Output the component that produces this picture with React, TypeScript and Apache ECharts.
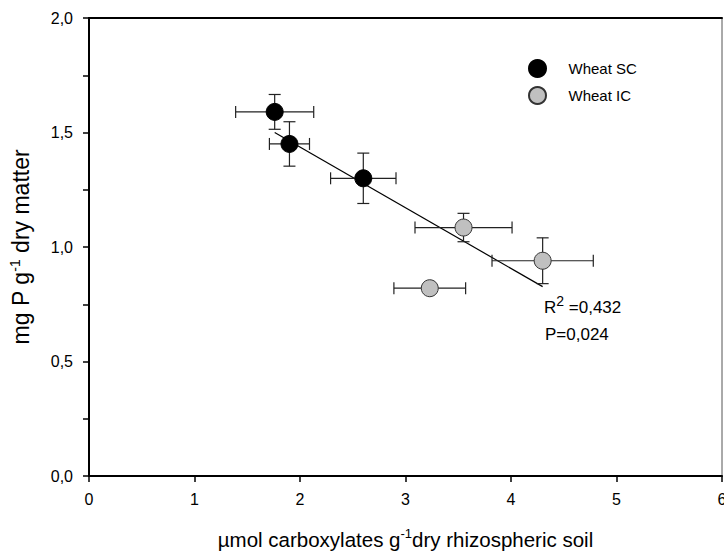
import React, { useEffect, useRef } from "react";
import * as echarts from "echarts";

const scX = [1.76, 1.9, 2.6];
const scY = [1.59, 1.45, 1.3];
const scXErr = [0.37, 0.19, 0.31];
const scYErr = [0.076, 0.097, 0.11];

const icX = [3.55, 4.3, 3.23];
const icY = [1.085, 0.94, 0.82];
const icXErr = [0.46, 0.48, 0.34];
const icYErr = [0.062, 0.1, 0.02];

const fitX = [1.76, 4.3];
const fitY = [1.5, 0.827];

const xTicks = [0, 1, 2, 3, 4, 5, 6];
const yTicks = ["0,0", "0,5", "1,0", "1,5", "2,0"];

const FONT = "Arial, 'Liberation Sans', sans-serif";

function errData(xs: number[], ys: number[], xe: number[], ye: number[]) {
  return xs.map((x, i) => [x, ys[i], xe[i], ye[i]]);
}

export default function App() {
  const ref = useRef<HTMLDivElement>(null);
  useEffect(() => {
    if (!ref.current) return;
    const chart = echarts.init(ref.current, undefined, { renderer: "svg" });
    const cap = 6;
    const renderErr = (params: any, api: any) => {
      const x = api.value(0);
      const y = api.value(1);
      const dx = api.value(2);
      const dy = api.value(3);
      const l = api.coord([x - dx, y]);
      const r = api.coord([x + dx, y]);
      const t = api.coord([x, y + dy]);
      const b = api.coord([x, y - dy]);
      const style = { stroke: "#222", lineWidth: 1.2 };
      return {
        type: "group",
        children: [
          { type: "line", shape: { x1: l[0], y1: l[1], x2: r[0], y2: r[1] }, style },
          { type: "line", shape: { x1: l[0], y1: l[1] - cap, x2: l[0], y2: l[1] + cap }, style },
          { type: "line", shape: { x1: r[0], y1: r[1] - cap, x2: r[0], y2: r[1] + cap }, style },
          { type: "line", shape: { x1: t[0], y1: t[1], x2: b[0], y2: b[1] }, style },
          { type: "line", shape: { x1: t[0] - cap, y1: t[1], x2: t[0] + cap, y2: t[1] }, style },
          { type: "line", shape: { x1: b[0] - cap, y1: b[1], x2: b[0] + cap, y2: b[1] }, style },
        ],
      };
    };
    chart.setOption({
      animation: false,
      backgroundColor: "#ffffff",
      textStyle: { fontFamily: FONT },
      grid: {
        left: 89,
        right: 2,
        top: 18,
        bottom: 76,
        show: true,
        borderColor: "#555",
        borderWidth: 1,
        outerBoundsMode: "none",
        containLabel: false,
      },
      legend: {
        left: 523,
        top: 54,
        orient: "vertical",
        itemWidth: 52,
        itemHeight: 17,
        itemGap: 8,
        data: ["Wheat SC", "Wheat IC"],
        textStyle: { fontSize: 15, color: "#000", fontFamily: FONT },
      },
      xAxis: [
        {
          type: "value",
          min: 0,
          max: 6,
          interval: 1,
          splitLine: { show: false },
          axisLine: { show: true, onZero: false, lineStyle: { color: "#000", width: 2 } },
          axisTick: { show: true, length: 6, lineStyle: { color: "#000", width: 1.5 } },
          axisLabel: {
            margin: 15,
            fontSize: 16,
            color: "#000",
            fontFamily: FONT,
            formatter: (v: number) => String(xTicks[Math.round(v)] ?? v),
          },
          name: "µmol carboxylates g{sup|-1}dry rhizospheric soil",
          nameLocation: "middle",
          nameGap: 51,
          nameTextStyle: {
            fontSize: 20.5,
            color: "#000",
            fontFamily: FONT,
            rich: {
              sup: { fontSize: 13, verticalAlign: "top", lineHeight: 24, color: "#000", fontFamily: FONT },
            },
          },
        },
        {
          type: "value",
          position: "top",
          min: 0,
          max: 6,
          interval: 1,
          splitLine: { show: false },
          axisLine: { show: true, onZero: false, lineStyle: { color: "#000", width: 2 } },
          axisTick: { show: false },
          axisLabel: { show: false },
        },
      ],
      yAxis: {
        type: "value",
        min: 0,
        max: 2,
        interval: 0.5,
        splitLine: { show: false },
        axisLine: { show: true, onZero: false, lineStyle: { color: "#000", width: 2 } },
        axisTick: { show: true, length: 6, lineStyle: { color: "#000", width: 1.5 } },
        minorTick: { show: true, splitNumber: 2, length: 6, lineStyle: { color: "#000", width: 1.5 } },
        axisLabel: {
          margin: 16,
          fontSize: 16,
          color: "#000",
          fontFamily: FONT,
          formatter: (v: number) => yTicks[Math.round(v * 2)] ?? String(v),
        },
        name: "mg P g{sup|-1} dry matter",
        nameLocation: "middle",
        nameGap: 55,
        nameTextStyle: {
          fontSize: 23,
          color: "#000",
          fontFamily: FONT,
          rich: {
            sup: { fontSize: 14, verticalAlign: "top", lineHeight: 26, color: "#000", fontFamily: FONT },
          },
        },
      },
      graphic: [
        {
          type: "text",
          left: 544,
          top: 294,
          style: {
            text: "R{sup|2} =0,432",
            fontSize: 17,
            fill: "#000",
            fontFamily: FONT,
            rich: { sup: { fontSize: 14, verticalAlign: "top", lineHeight: 26, fontFamily: FONT } },
          },
        },
        {
          type: "text",
          left: 545,
          top: 326,
          style: { text: "P=0,024", fontSize: 17, fill: "#000", fontFamily: FONT },
        },
      ],
      series: [
        {
          type: "line",
          data: fitX.map((x, i) => [x, fitY[i]]),
          symbol: "none",
          lineStyle: { color: "#000", width: 1.2 },
          silent: true,
          z: 1,
        },
        {
          type: "custom",
          renderItem: renderErr,
          data: errData(scX, scY, scXErr, scYErr),
          z: 2,
          silent: true,
        },
        {
          type: "custom",
          renderItem: renderErr,
          data: errData(icX, icY, icXErr, icYErr),
          z: 2,
          silent: true,
        },
        {
          name: "Wheat SC",
          type: "scatter",
          data: scX.map((x, i) => [x, scY[i]]),
          symbol: "circle",
          symbolSize: 17,
          itemStyle: { color: "#000", borderColor: "#000", borderWidth: 1, opacity: 1 },
          z: 3,
        },
        {
          name: "Wheat IC",
          type: "scatter",
          data: icX.map((x, i) => [x, icY[i]]),
          symbol: "circle",
          symbolSize: 17,
          itemStyle: { color: "#c0c0c0", borderColor: "#333", borderWidth: 1, opacity: 1 },
          z: 3,
        },
      ],
    });
    return () => chart.dispose();
  }, []);
  return <div ref={ref} style={{ width: 724, height: 552, position: "absolute", left: 0, top: 0 }} />;
}
